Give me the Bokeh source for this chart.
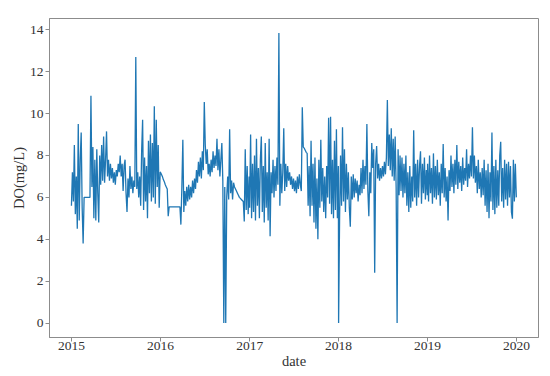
import pandas as pd
from bokeh.plotting import figure
from bokeh.models import Range1d, FixedTicker, DatetimeTickFormatter, ColumnDataSource
from bokeh.embed import file_html
from bokeh.resources import INLINE

# Dissolved oxygen readings (mg/L), one value every 4 days from Jan 1 of each year
do_2015 = [5.6, 7.2, 5.8, 8.5, 5.2, 7.0, 4.5, 9.5, 4.9, 7.8, 9.1, 5.5, 3.8,
           6.0, 6.0, 6.0, 6.0, 6.0, 6.0, 6.0, 10.85, 6.5, 8.4, 5.0, 7.8, 4.9,
           8.3, 6.2, 4.8, 8.0, 6.6, 8.5, 6.8, 8.9, 6.7, 7.8, 9.15, 7.0, 7.8,
           6.8, 7.6, 6.9, 7.4, 6.7, 7.2, 6.6, 7.3, 7.0, 7.6, 7.2, 8.0, 7.0,
           7.6, 6.3, 7.5, 7.8, 6.2, 5.3, 6.9, 6.0, 7.5, 6.4, 7.0, 6.2, 6.8,
           6.5, 12.7, 6.4, 7.2, 6.0, 7.0, 5.6, 8.2, 9.7, 5.4, 7.9, 5.8, 7.5,
           5.0, 8.7, 6.2, 9.0, 5.8, 8.6, 6.0, 10.35, 5.7, 9.7, 6.5, 8.5, 5.5,
           7.2]
do_2016 = [7.2, 7.1, 7.0, 6.85, 6.75, 6.6, 6.5, 6.4, 5.1, 5.55, 5.55, 5.55,
           5.55, 5.55, 5.55, 5.55, 5.55, 5.55, 5.55, 5.55, 5.55, 4.7, 6.5,
           8.75, 5.3, 6.3, 5.6, 6.5, 5.8, 6.6, 5.9, 6.5, 6.0, 6.8, 6.2, 6.9,
           6.4, 7.3, 6.7, 7.7, 7.0, 7.9, 6.9, 8.2, 7.3, 10.55, 8.5, 7.6, 8.3,
           7.1, 7.6, 7.0, 7.8, 7.2, 8.2, 7.4, 8.0, 7.5, 8.8, 7.3, 8.3, 7.0,
           7.8, 8.6, 6.8, 0.0, 6.5, 0.0, 6.0, 7.0, 5.9, 9.25, 6.2, 6.8, 5.9,
           6.7, 6.5, 6.4, 6.3, 6.2, 6.1, 6.0, 5.95, 5.9, 5.85, 5.8, 4.85, 8.3,
           5.4, 7.5, 5.2, 7.0]
do_2017 = [5.5, 9.0, 5.0, 7.6, 5.3, 8.0, 4.9, 8.8, 5.6, 7.4, 5.0, 7.8, 8.9,
           5.3, 7.5, 4.8, 8.6, 5.5, 7.2, 4.9, 8.8, 4.15, 7.2, 6.2, 7.8, 6.0,
           7.5, 6.3, 7.9, 6.6, 13.85, 5.6, 7.6, 6.2, 7.2, 9.3, 6.3, 7.6, 6.5,
           7.5, 6.8, 7.2, 6.6, 7.0, 6.4, 6.9, 6.3, 6.8, 6.2, 7.0, 6.4, 7.1,
           6.6, 6.3, 10.3, 8.4, 8.35, 8.25, 8.15, 8.1, 5.6, 7.5, 5.1, 8.7, 5.6,
           7.6, 4.8, 7.9, 4.5, 6.9, 4.0, 7.8, 5.5, 8.75, 5.8, 7.4, 5.3, 7.0,
           5.0, 7.5, 6.0, 9.8, 5.7, 9.85, 5.2, 7.8, 5.0, 8.7, 5.4, 9.25, 5.0,
           7.5]
do_2018 = [0.0, 5.0, 8.0, 5.6, 9.35, 5.8, 8.3, 5.3, 7.6, 5.9, 7.2, 5.5, 4.6,
           7.0, 5.9, 7.1, 6.0, 6.9, 6.2, 6.8, 5.8, 6.6, 6.1, 7.4, 6.2, 7.8,
           6.4, 7.5, 6.6, 9.5, 6.3, 5.1, 7.2, 6.2, 8.6, 7.4, 8.3, 2.4, 7.6,
           8.45, 6.9, 7.6, 6.8, 7.4, 6.9, 7.5, 7.0, 7.7, 7.1, 7.9, 10.65, 7.5,
           9.0, 7.3, 9.3, 7.0, 8.8, 6.8, 8.9, 6.5, 0.0, 8.3, 6.1, 8.0, 6.3,
           7.9, 6.0, 7.6, 6.2, 8.0, 5.6, 7.2, 5.3, 7.5, 5.5, 7.0, 5.8, 9.2,
           6.0, 7.6, 5.6, 7.8, 6.0, 7.5, 8.2, 5.7, 7.6, 6.2, 7.9, 5.9, 7.3,
           6.1]
do_2019 = [7.6, 5.8, 8.0, 6.2, 7.4, 5.7, 8.1, 6.0, 7.5, 5.9, 7.8, 6.1, 7.2,
           5.6, 7.6, 6.2, 8.55, 6.0, 7.4, 5.8, 7.0, 4.9, 7.3, 6.3, 8.0, 6.5,
           7.6, 6.2, 7.8, 6.6, 8.5, 6.4, 7.7, 6.7, 7.5, 6.3, 7.9, 6.6, 7.4,
           6.8, 8.3, 6.5, 7.6, 6.9, 8.0, 7.0, 9.35, 6.9, 8.0, 6.7, 7.5, 6.2,
           7.8, 6.4, 7.2, 6.0, 7.4, 6.1, 7.8, 5.6, 7.3, 5.3, 7.6, 5.0, 7.2,
           5.8, 9.1, 5.4, 7.5, 5.2, 7.8, 5.5, 7.3, 5.6, 8.0, 8.65, 5.8, 7.4,
           5.5, 7.8, 5.9, 7.6, 5.6, 7.7, 6.0, 7.5, 5.3, 4.98, 7.8, 5.8, 7.6,
           6.0]
years = [2015, 2016, 2017, 2018, 2019]
year_values = [do_2015, do_2016, do_2017, do_2018, do_2019]
tick_years = [2015, 2016, 2017, 2018, 2019, 2020]

dates, vals = [], []
for y, arr in zip(years, year_values):
    d = pd.date_range(f"{y}-01-01", periods=len(arr), freq="4D")
    dates.extend(list(d))
    vals.extend(arr)
src = ColumnDataSource(dict(date=dates, do=vals))

def ms(ts):
    return pd.Timestamp(ts).value / 1e6

FONT = "'Liberation Serif', serif"
TXT = "#333333"
SPINE = "#8c8c8c"

p = figure(width=550, height=376, x_axis_type="datetime",
           output_backend="svg", toolbar_location=None,
           min_border_left=49, min_border_right=12, min_border_top=18,
           min_border_bottom=39)
p.x_range = Range1d(ms("2014-10-03"), ms("2020-03-31"))
p.y_range = Range1d(-0.69, 14.54)

p.line("date", "do", source=src, line_color="#1f77b4", line_width=1.3)

p.xgrid.visible = False
p.ygrid.visible = False
p.outline_line_color = SPINE
p.outline_line_width = 1

p.xaxis.ticker = FixedTicker(ticks=[ms(f"{y}-01-01") for y in tick_years])
fmt = "%Y"
p.xaxis.formatter = DatetimeTickFormatter(years=fmt, months=fmt, days=fmt,
                                          hours=fmt, minutes=fmt, seconds=fmt,
                                          milliseconds=fmt, microseconds=fmt)
p.yaxis.ticker = FixedTicker(ticks=[0, 2, 4, 6, 8, 10, 12, 14])

for ax in (p.xaxis[0], p.yaxis[0]):
    ax.axis_line_color = SPINE
    ax.major_tick_line_color = SPINE
    ax.major_tick_out = 4
    ax.major_tick_in = 0
    ax.minor_tick_line_color = None
    ax.major_label_text_font = FONT
    ax.major_label_text_font_size = "13.5px"
    ax.major_label_text_color = TXT
    ax.axis_label_text_font = FONT
    ax.axis_label_text_font_size = "14.5px"
    ax.axis_label_text_font_style = "normal"
    ax.axis_label_text_color = TXT

p.xaxis.major_label_standoff = 0
p.xaxis.axis_label_standoff = 0
p.yaxis.major_label_standoff = 2
p.yaxis.axis_label_standoff = 0

p.xaxis.axis_label = "date"
p.yaxis.axis_label = "DO(mg/L)"

open("out.html", "w").write(file_html(p, INLINE))
